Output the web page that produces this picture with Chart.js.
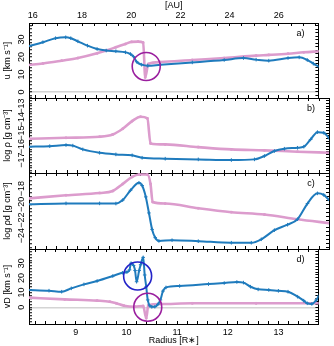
<!DOCTYPE html>
<html><head><meta charset="utf-8">
<script src="https://cdn.jsdelivr.net/npm/chart.js@4.4.1/dist/chart.umd.min.js"></script>
<style>
html,body{margin:0;padding:0;background:#fff;}
#wrap{position:relative;width:334px;height:346px;overflow:hidden;}
#wrap canvas{position:absolute;left:0;top:0;}
</style></head><body>
<div id="wrap">
<canvas id="pa" width="334" height="346"></canvas>
<canvas id="pb" width="334" height="346"></canvas>
<canvas id="pc" width="334" height="346"></canvas>
<canvas id="pd" width="334" height="346"></canvas>
</div>
<script>
// ---- axis ranges / tick labels ----
const R_RANGE = [8.075, 13.79];          // Radius [R*]
const AU_RANGE = [15.845, 27.61];        // [AU]
const R_TICK_LABELS = [9, 10, 11, 12, 13];
const AU_TICK_LABELS = [16, 18, 20, 22, 24, 26];
const U_TICK_LABELS = [0, 10, 20, 30];
const RHO_TICK_LABELS = [-17, -16, -15, -14, -13];
const RHOD_TICK_LABELS = [-24, -22, -20, -18];
const VD_TICK_LABELS = [0, 10, 20, 30];

// ---- panel a) u [km/s] ----
const uBlueR = [8.06, 8.35, 8.6, 8.8, 8.9, 9.04, 9.23, 9.42, 9.6, 9.79, 9.98, 10.08, 10.14, 10.2, 10.3, 10.42, 10.67, 11.3, 11.93, 12.31, 12.56, 12.81, 13.19, 13.41, 13.57, 13.69, 13.8];
const uBlueV = [26.1, 28.5, 30.8, 31.3, 30.8, 29, 26.5, 24.6, 23.7, 23.3, 22.7, 21.7, 20.2, 17.3, 15.6, 15, 15.6, 16.9, 18.3, 19.4, 18.5, 17.9, 19.4, 19.8, 18.3, 16.2, 14.4];
const uPinkR = [8.06, 8.35, 8.72, 9.04, 9.42, 9.6, 9.79, 9.98, 10.1, 10.23, 10.33, 10.37, 10.43, 10.67, 11.3, 11.93, 12.56, 12.81, 13.19, 13.5, 13.8];
const uPinkV = [15.4, 16.3, 17.9, 19.4, 22.1, 23.7, 25.6, 27.5, 28.7, 28.8, 28.3, 8.3, 16, 17.1, 18.3, 19.4, 20.8, 21.2, 21.9, 22.7, 23.3];

// ---- panel b) log rho ----
const rhoBlueR = [8.06, 8.47, 8.78, 8.91, 9.1, 9.42, 9.73, 10.04, 10.23, 10.67, 11.3, 11.93, 12.37, 12.56, 12.75, 12.94, 13.19, 13.31, 13.44, 13.57, 13.69, 13.8];
const rhoBlueV = [-16.01, -15.97, -15.89, -15.93, -16.21, -16.46, -16.58, -16.65, -16.83, -16.9, -16.95, -17.0, -16.95, -16.7, -16.33, -16.16, -16.09, -16.01, -15.47, -14.93, -14.98, -15.42];
const rhoPinkR = [8.06, 8.78, 9.42, 9.67, 9.86, 10.04, 10.2, 10.33, 10.39, 10.67, 11.3, 11.93, 12.56, 13.19, 13.8];
const rhoPinkV = [-15.42, -15.35, -15.27, -15.1, -14.68, -14.11, -13.79, -13.91, -15.77, -15.84, -16.04, -16.21, -16.28, -16.38, -16.46];

// ---- panel c) log rho_d ----
const rhodBlueR = [8.06, 8.78, 9.42, 9.73, 9.86, 10.01, 10.17, 10.23, 10.3, 10.36, 10.42, 10.48, 10.55, 10.8, 11.3, 11.93, 12.31, 12.5, 12.75, 13.0, 13.19, 13.38, 13.57, 13.69, 13.8];
const rhodBlueV = [-20.0, -19.88, -19.88, -19.9, -19.46, -18.2, -17.25, -17.6, -19.05, -21.1, -23.2, -24.25, -24.67, -24.58, -24.7, -24.9, -24.9, -24.46, -23.3, -22.6, -21.9, -19.9, -18.6, -18.8, -19.5];
const rhodPinkR = [8.06, 8.78, 9.42, 9.67, 9.86, 10.04, 10.17, 10.33, 10.39, 10.43, 10.67, 11.3, 11.93, 12.56, 13.19, 13.8];
const rhodPinkV = [-19.25, -18.84, -18.55, -18.3, -17.4, -16.5, -16.2, -16.2, -17.4, -19.7, -19.9, -20.5, -21.0, -21.3, -21.9, -22.4];

// ---- panel d) v_D [km/s] ----
const vdBlueR = [8.06, 8.47, 8.72, 8.91, 9.16, 9.42, 9.73, 9.92, 10.01, 10.06, 10.09, 10.14, 10.17, 10.2, 10.25, 10.28, 10.33, 10.36, 10.39, 10.42, 10.46, 10.5, 10.56, 10.62, 10.67, 10.72, 10.78, 11.05, 11.62, 11.93, 12.18, 12.31, 12.45, 12.6, 12.81, 13.0, 13.19, 13.38, 13.5, 13.57, 13.66, 13.75, 13.8];
const vdBlueV = [11.8, 11.3, 10.6, 12.9, 15.6, 17.9, 21.3, 23.5, 24, 25.5, 30, 28.5, 25, 17.4, 25, 29, 34, 22, 14, 5, 1, 0.3, 0.4, 2, 5, 11, 13.5, 14.5, 15.8, 16.5, 17.2, 16.8, 14, 12.2, 11.8, 11.2, 10.6, 7.2, 4.5, 2.7, 2.3, 5, 7.7];
const vdPinkR = [8.06, 8.78, 9.42, 9.67, 9.8, 9.95, 10.17, 10.33, 10.39, 10.43, 10.67, 11.3, 12.56, 13.8];
const vdPinkV = [6.6, 5.4, 4.5, 3.8, 2.7, 1.1, 0.4, 0.9, -7.5, 1.3, 2.2, 2.7, 2.7, 2.7];

// ---- highlight circles ----
const circleA_R = [10.39], circleA_V = [14.6];
const circleDBlue_R = [10.22], circleDBlue_V = [21.3];
const circleDPurple_R = [10.42], circleDPurple_V = [0];

// ---- styles ----
const BLUE = '#1f7bbd', PINK = '#dc9ccd', PURPLE = '#9a1e9e', CBLUE = '#2323c8';
const FONT = '"Liberation Sans", Arial, sans-serif';
Chart.defaults.font.family = FONT;
Chart.defaults.font.size = 9;
Chart.defaults.color = '#000';
Chart.defaults.animation = false;

const pts = (xs, ys) => xs.map((x, i) => ({x, y: ys[i]}));
const near = (v, list) => list.find(t => Math.abs(v - t) < 1e-6);
const fmt = v => (v < 0 ? '\u2212' + Math.abs(v) : String(v));
const labelCb = list => v => { const t = near(v, list); return t === undefined ? '' : fmt(t); };

const panelLabel = {
  id: 'panelLabel',
  afterDraw(chart, args, opts) {
    const {ctx, chartArea} = chart;
    ctx.save();
    ctx.font = '9px ' + FONT; ctx.fillStyle = '#000';
    ctx.textAlign = 'center'; ctx.textBaseline = 'middle';
    ctx.fillText(opts.text, chartArea.right - 18, chartArea.top + 11);
    ctx.restore();
  }
};

function lineDs(xs, ys, color, kind) {
  const blue = kind === 'blue';
  return {
    data: pts(xs, ys), borderColor: color, backgroundColor: color,
    borderWidth: blue ? 2 : 2.6,
    pointStyle: blue ? 'cross' : 'rect', pointRadius: blue ? 1.8 : 1.2,
    pointBorderWidth: 1, pointBorderColor: color, pointBackgroundColor: color,
    cubicInterpolationMode: 'monotone'
  };
}
function circleDs(xs, ys, color) {
  return {
    data: pts(xs, ys), showLine: false, pointRadius: 14, pointBorderWidth: 1.6,
    pointBorderColor: color, pointBackgroundColor: 'rgba(0,0,0,0)', pointStyle: 'circle', clip: false
  };
}

function makePanel(id, c) {
  const xTicks = {stepSize: 0.2, autoSkip: false, includeBounds: false};
  const scales = {
    x: {
      type: 'linear', position: 'bottom', min: R_RANGE[0], max: R_RANGE[1],
      ticks: Object.assign({}, xTicks, {display: !!c.bottomLabels, maxRotation: 0, padding: 6,
        callback: labelCb(R_TICK_LABELS)}),
      grid: {drawOnChartArea: false, tickLength: -3, tickColor: '#000'},
      border: {color: '#000'},
      title: {display: !!c.bottomLabels, text: 'Radius [R\u2217]', padding: {top: 0, bottom: 0}},
      afterFit: s => { s.height = c.bottomLabels ? 22 : 0; }
    },
    y: {
      position: 'left', min: c.yMin, max: c.yMax,
      ticks: {stepSize: c.yStep, autoSkip: false, includeBounds: false, minRotation: 90, maxRotation: 90,
        crossAlign: 'center', padding: c.yPad, callback: labelCb(c.yLabels)},
      grid: {drawOnChartArea: !!c.zero, tickLength: -3, tickColor: '#000', tickWidth: 1, lineWidth: 1.5,
        color: ctx => (ctx.tick && Math.abs(ctx.tick.value) < 1e-9) ? '#d4d4d4' : 'rgba(0,0,0,0)'},
      border: {color: '#000'},
      title: {display: true, text: c.yTitle, padding: {top: 2.5, bottom: 0}},
      afterFit: s => { s.width = 29; }
    },
    y2: {
      position: 'right', min: c.yMin, max: c.yMax,
      ticks: {display: false, stepSize: c.yStep, autoSkip: false, includeBounds: false},
      grid: {drawOnChartArea: false, tickLength: -3, tickColor: '#000'},
      border: {color: '#000'},
      afterFit: s => { s.width = 0; }
    }
  };
  if (c.au) {
    scales.x2 = {
      type: 'linear', position: 'top', min: AU_RANGE[0], max: AU_RANGE[1],
      ticks: {stepSize: 0.5, autoSkip: false, includeBounds: false, maxRotation: 0, padding: 5,
        callback: labelCb(AU_TICK_LABELS)},
      grid: {drawOnChartArea: false, tickLength: -3, tickColor: '#000'},
      border: {color: '#000'},
      title: {display: true, text: '[AU]', padding: {top: 0, bottom: 0}},
      afterFit: s => { s.height = 23; }
    };
  } else {
    scales.x2 = {
      type: 'linear', position: 'top', min: R_RANGE[0], max: R_RANGE[1],
      ticks: Object.assign({}, xTicks, {display: false}),
      grid: {drawOnChartArea: false, tickLength: -3, tickColor: '#000'},
      border: {color: '#000'},
      afterFit: s => { s.height = 0; }
    };
  }
  return new Chart(document.getElementById(id), {
    type: 'line',
    data: {datasets: c.datasets},
    options: {
      responsive: false, animation: false, events: [],
      layout: {padding: {top: c.padTop, bottom: c.padBottom, left: 0, right: 2}},
      plugins: {legend: {display: false}, tooltip: {enabled: false}, panelLabel: {text: c.label}},
      scales
    },
    plugins: [panelLabel]
  });
}

makePanel('pa', {
  padTop: 0, padBottom: 248, au: true, label: 'a)',
  yMin: -3.5, yMax: 39.5, yStep: 2, yPad: 5.5, yLabels: U_TICK_LABELS, zero: true,
  yTitle: 'u [km s\u207B\u00B9]',
  datasets: [circleDs(circleA_R, circleA_V, PURPLE), lineDs(uBlueR, uBlueV, BLUE, 'blue'), lineDs(uPinkR, uPinkV, PINK, 'pink')]
});
makePanel('pb', {
  padTop: 98, padBottom: 173, label: 'b)',
  yMin: -17.96, yMax: -12.4, yStep: 0.2, yPad: 3, yLabels: RHO_TICK_LABELS,
  yTitle: 'log \u03C1 [g cm\u207B\u00B3]',
  datasets: [lineDs(rhoBlueR, rhoBlueV, BLUE, 'blue'), lineDs(rhoPinkR, rhoPinkV, PINK, 'pink')]
});
makePanel('pc', {
  padTop: 173, padBottom: 97, label: 'c)',
  yMin: -25.7, yMax: -16, yStep: 0.5, yPad: 3, yLabels: RHOD_TICK_LABELS,
  yTitle: 'log \u03C1d [g cm\u207B\u00B3]',
  datasets: [lineDs(rhodBlueR, rhodBlueV, BLUE, 'blue'), lineDs(rhodPinkR, rhodPinkV, PINK, 'pink')]
});
makePanel('pd', {
  padTop: 249, padBottom: 0, bottomLabels: true, label: 'd)',
  yMin: -11.4, yMax: 39.7, yStep: 2, yPad: 5.5, yLabels: VD_TICK_LABELS, zero: true,
  yTitle: 'vD [km s\u207B\u00B9]',
  datasets: [circleDs(circleDBlue_R, circleDBlue_V, CBLUE), circleDs(circleDPurple_R, circleDPurple_V, PURPLE),
             lineDs(vdBlueR, vdBlueV, BLUE, 'blue'), lineDs(vdPinkR, vdPinkV, PINK, 'pink')]
});
</script>
</body></html>
